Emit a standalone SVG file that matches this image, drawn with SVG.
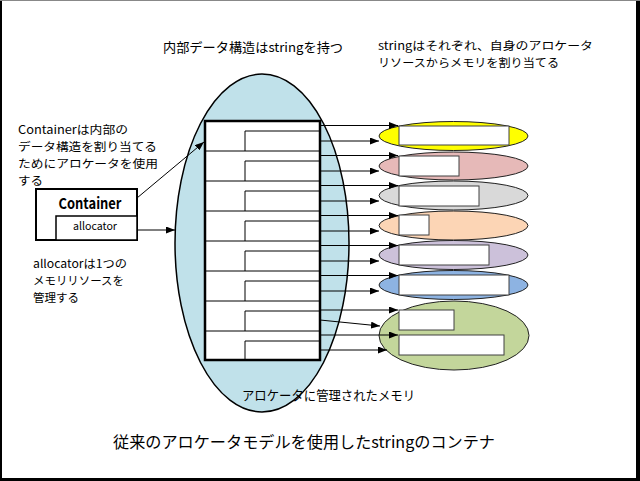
<svg xmlns="http://www.w3.org/2000/svg" width="640" height="481" viewBox="0 0 640 481">
<style>
text{font-family:"Noto Sans CJK JP","Noto Sans",sans-serif;fill:#000}
.t{font-size:13px}
.m{font-size:11.4px}
.ln{stroke:#000;stroke-width:1;fill:none}
.arr{stroke:#000;stroke-width:1;fill:none;marker-end:url(#ah)}
.sb{fill:#fff;stroke:#404040;stroke-width:1}
.se{stroke:#222;stroke-width:1}
</style>
<defs>
<marker id="ah" markerWidth="9" markerHeight="7" refX="9" refY="3.5" orient="auto" markerUnits="userSpaceOnUse">
<path d="M0,0 L9,3.5 L0,7 z" fill="#000"/>
</marker>
</defs>
<rect x="0" y="0" width="640" height="481" fill="#000"/>
<rect x="0" y="0" width="640" height="1" fill="#888"/>
<rect x="2" y="1" width="634" height="477" fill="#fff"/>

<g id="memory">
<ellipse cx="262" cy="243" rx="87" ry="169" fill="#c0e1ea" stroke="#000" stroke-width="1.5"/>
<text class="t" x="242" y="400" textLength="173" lengthAdjust="spacingAndGlyphs">アロケータに管理されたメモリ</text>
</g>

<g id="datastruct">
<rect x="205" y="121" width="115" height="239" fill="#fff"/>
<path class="ln" d="M245,151V131H320 M205,151H320 M245,181V161H320 M205,181H320 M245,211V191H320 M205,211H320 M245,241V221H320 M205,241H320 M245,271V251H320 M205,271H320 M245,301V281H320 M205,301H320 M245,331V311H320 M205,331H320 M245,360V341H320"/>
<rect x="205" y="121" width="115" height="239" fill="none" stroke="#000" stroke-width="2.5"/>
</g>

<g id="container">
<rect x="36" y="189" width="101" height="51" fill="#fff" stroke="#000" stroke-width="2"/>
<rect x="56" y="216" width="81" height="24" fill="#fff" stroke="#000" stroke-width="1.5"/>
<text x="90" y="209" font-size="15" font-weight="bold" text-anchor="middle" textLength="63" lengthAdjust="spacingAndGlyphs">Container</text>
<text x="95" y="230" font-size="11" text-anchor="middle" textLength="44" lengthAdjust="spacingAndGlyphs">allocator</text>
</g>

<g id="str1"><ellipse class="se" cx="453.5" cy="136" rx="74.5" ry="14.5" fill="#ffff00"/><rect class="sb" x="399" y="126" width="110" height="19"/></g>
<g id="str2"><ellipse class="se" cx="453.5" cy="166" rx="74.5" ry="14" fill="#e6b9b8"/><rect class="sb" x="399" y="156" width="60" height="20"/></g>
<g id="str3"><ellipse class="se" cx="453.5" cy="195.5" rx="74.5" ry="14.5" fill="#d9d9d9"/><rect class="sb" x="399" y="186" width="80" height="20"/></g>
<g id="str4"><ellipse class="se" cx="453.5" cy="225.5" rx="74.5" ry="14.5" fill="#fcd5b5"/><rect class="sb" x="399" y="215" width="30" height="20"/></g>
<g id="str5"><ellipse class="se" cx="453.5" cy="255" rx="74.5" ry="14.5" fill="#ccc1da"/><rect class="sb" x="399" y="245" width="90" height="20"/></g>
<g id="str6"><ellipse class="se" cx="453.5" cy="285" rx="74.5" ry="14.5" fill="#8db3e2"/><rect class="sb" x="399" y="275" width="110" height="20"/></g>
<g id="str7"><ellipse class="se" cx="454" cy="335.5" rx="75" ry="34.5" fill="#c3d69b"/><rect class="sb" x="399" y="310" width="55" height="20"/><rect class="sb" x="399" y="335" width="105" height="20"/></g>

<g id="connectors">
<path class="arr" d="M137,198L204,142"/>
<path class="arr" d="M137,230L175,230"/>
<path class="arr" d="M320,125.5H398"/>
<path class="arr" d="M320,141H379"/>
<path class="arr" d="M320,155.5H398"/>
<path class="arr" d="M320,171H379"/>
<path class="arr" d="M320,185.5H398"/>
<path class="arr" d="M320,201H379"/>
<path class="arr" d="M320,215.5H398"/>
<path class="arr" d="M320,231H379"/>
<path class="arr" d="M320,245.5H398"/>
<path class="arr" d="M320,261H379"/>
<path class="arr" d="M320,275.5H398"/>
<path class="arr" d="M320,291H379"/>
<path class="arr" d="M320,310H398"/>
<path class="arr" d="M320,320L380,326"/>
<path class="arr" d="M320,335H398"/>
<path class="arr" d="M320,350H387"/>
</g>

<g id="labels">
<text class="m" x="18" y="134" textLength="110" lengthAdjust="spacingAndGlyphs">Containerは内部の</text>
<text class="m" x="18" y="151" textLength="139" lengthAdjust="spacingAndGlyphs">データ構造を割り当てる</text>
<text class="m" x="18" y="168" textLength="140" lengthAdjust="spacingAndGlyphs">ためにアロケータを使用</text>
<text class="m" x="18" y="185" textLength="25" lengthAdjust="spacingAndGlyphs">する</text>
<text class="m" x="33" y="268" textLength="94" lengthAdjust="spacingAndGlyphs">allocatorは1つの</text>
<text class="m" x="33" y="285" textLength="91" lengthAdjust="spacingAndGlyphs">メモリリソースを</text>
<text class="m" x="33" y="302" textLength="46" lengthAdjust="spacingAndGlyphs">管理する</text>
<text class="t" x="163" y="52" textLength="180" lengthAdjust="spacingAndGlyphs">内部データ構造はstringを持つ</text>
<text class="m" x="378" y="50" textLength="215" lengthAdjust="spacingAndGlyphs">stringはそれぞれ、自身のアロケータ</text>
<text class="m" x="378" y="67" textLength="181" lengthAdjust="spacingAndGlyphs">リソースからメモリを割り当てる</text>
<text x="113" y="448" font-size="16" textLength="382" lengthAdjust="spacingAndGlyphs">従来のアロケータモデルを使用したstringのコンテナ</text>
</g>
</svg>
